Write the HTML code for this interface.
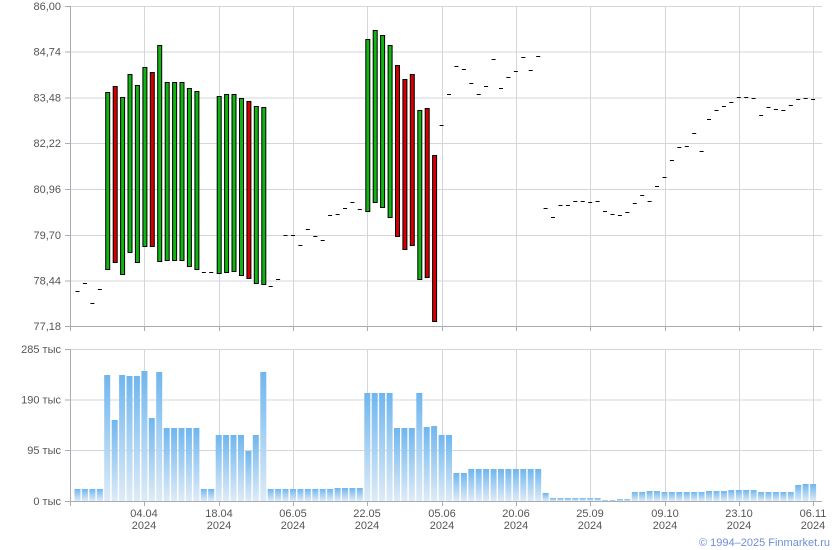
<!DOCTYPE html>
<html><head><meta charset="utf-8"><style>
html,body{margin:0;padding:0;background:#fff;}
svg{display:block;font-family:"Liberation Sans",Verdana,sans-serif;}
</style></head><body>
<svg id="c" width="840" height="550" xmlns="http://www.w3.org/2000/svg">
<defs><linearGradient id="g" x1="0" y1="0" x2="0" y2="1"><stop offset="0" stop-color="#6fb6ee"/><stop offset="1" stop-color="#deebf7"/></linearGradient></defs>
<g id="grid" stroke="#d3d7db" stroke-width="1"></g>
<g id="axes" stroke="#a9adb3" stroke-width="1"></g>
<g id="vol" fill="url(#g)"></g>
<g id="px"></g>
<g id="lbl" font-size="11" fill="#555"></g>
<text x="830" y="546" font-size="11" fill="#6c8fd6" text-anchor="end">© 1994–2025 Finmarket.ru</text>
</svg>
<script>
var NS="http://www.w3.org/2000/svg";
function el(p,t,a,txt){var e=document.createElementNS(NS,t);for(var k in a)e.setAttribute(k,a[k]);if(txt!=null)e.textContent=txt;document.getElementById(p).appendChild(e);return e;}
var L=70,R=822;
var py=[6,51.5,97.5,143,189,235,280.5,326],pl=["86,00","84,74","83,48","82,22","80,96","79,70","78,44","77,18"];
py.forEach(function(y,i){if(i<7)el("grid","line",{x1:L,x2:R,y1:y+.5,y2:y+.5});el("lbl","text",{x:61,y:y+4,"text-anchor":"end"},pl[i]);});
var vy=[349,399.5,450,501],vl=["285 тыс","190 тыс","95 тыс","0 тыс"];
vy.forEach(function(y,i){if(i<3)el("grid","line",{x1:L,x2:R,y1:y+.5,y2:y+.5});el("lbl","text",{x:61,y:y+4,"text-anchor":"end"},vl[i]);});
var gx=[144,219,293,367,442,516,590,665,739,813],gd=["04.04","18.04","06.05","22.05","05.06","20.06","25.09","09.10","23.10","06.11"];
gx.forEach(function(x,i){
 el("grid","line",{x1:x+.5,x2:x+.5,y1:6,y2:326});
 el("grid","line",{x1:x+.5,x2:x+.5,y1:349,y2:501});
 el("axes","line",{x1:x+.5,x2:x+.5,y1:326,y2:331});
 el("axes","line",{x1:x+.5,x2:x+.5,y1:501,y2:506});
 el("lbl","text",{x:x,y:517,"text-anchor":"middle"},gd[i]);
 el("lbl","text",{x:x,y:529,"text-anchor":"middle"},"2024");
});
el("axes","line",{x1:L+.5,x2:L+.5,y1:6,y2:331});
el("axes","line",{x1:L,x2:R,y1:326.5,y2:326.5});
el("axes","line",{x1:L+.5,x2:L+.5,y1:349,y2:506});
el("axes","line",{x1:L,x2:R,y1:501.5,y2:501.5});
py.forEach(function(y){el("axes","line",{x1:65,x2:70,y1:y+.5,y2:y+.5});});
vy.forEach(function(y){el("axes","line",{x1:65,x2:70,y1:y+.5,y2:y+.5});});
var G="#11b511",Rd="#d40000";
var P=[291,283,303,289,
[92,269,G],[86,262,Rd],[97,274,G],[74,252,G],[85,262,G],[67,246,G],[72,246,Rd],[45,261,G],[82,260,G],[82,260,G],[82,260,G],[88,266,G],[91,269,G],
272,272,
[96,273,G],[94,272,G],[94,271,G],[98,275,G],[101,278,Rd],[106,283,G],[107,284,G],
286,279,235,235,245,229,236,240,215,214,208,202,209,
[39,211,G],[30,202,G],[35,207,G],[45,217,G],[65,236,Rd],[79,249,Rd],[74,245,Rd],[110,279,G],[108,277,Rd],[155,321,Rd],
125,94,66,69,83,94,86,59,88,77,71,57,70,56,
208,217,205,205,201,201,202,201,211,214,215,212,203,195,201,186,177,160,147,146,133,151,119,110,106,102,97,97,98,115,107,109,110,105,99,98,99];
var V=[489,489,489,489,375,420,375,376,376,371,418,372,428,428,428,428,428,489,489,435,435,435,435,451,435,372,
489,489,489,489,489,489,489,489,489,488,488,488,488,393,393,393,393,428,428,428,393,427,426,435,435,473,473,
469,469,469,469,469,469,469,469,469,469,493,498,498,498,498,498,498,498,500,500,499,499,492,492,491,491,
492,492,492,492,492,492,491,491,491,490,490,490,490,492,492,492,492,492,485,484,484];
for(var i=0;i<100;i++){
 var cx=77.5+7.43*i;
 var v=V[i];if(v!==undefined)el("vol","rect",{x:(cx-3).toFixed(1),y:v,width:6,height:501-v});
 var p=P[i];
 if(typeof p==="number")el("px","rect",{x:(cx-2).toFixed(1),y:p,width:4,height:1,fill:"#000"});
 else el("px","rect",{x:(cx-2).toFixed(1)-0+0.5,y:p[0]+.5,width:4,height:p[1]-p[0],fill:p[2],stroke:"#000","stroke-width":1});
}
</script>
</body></html>
